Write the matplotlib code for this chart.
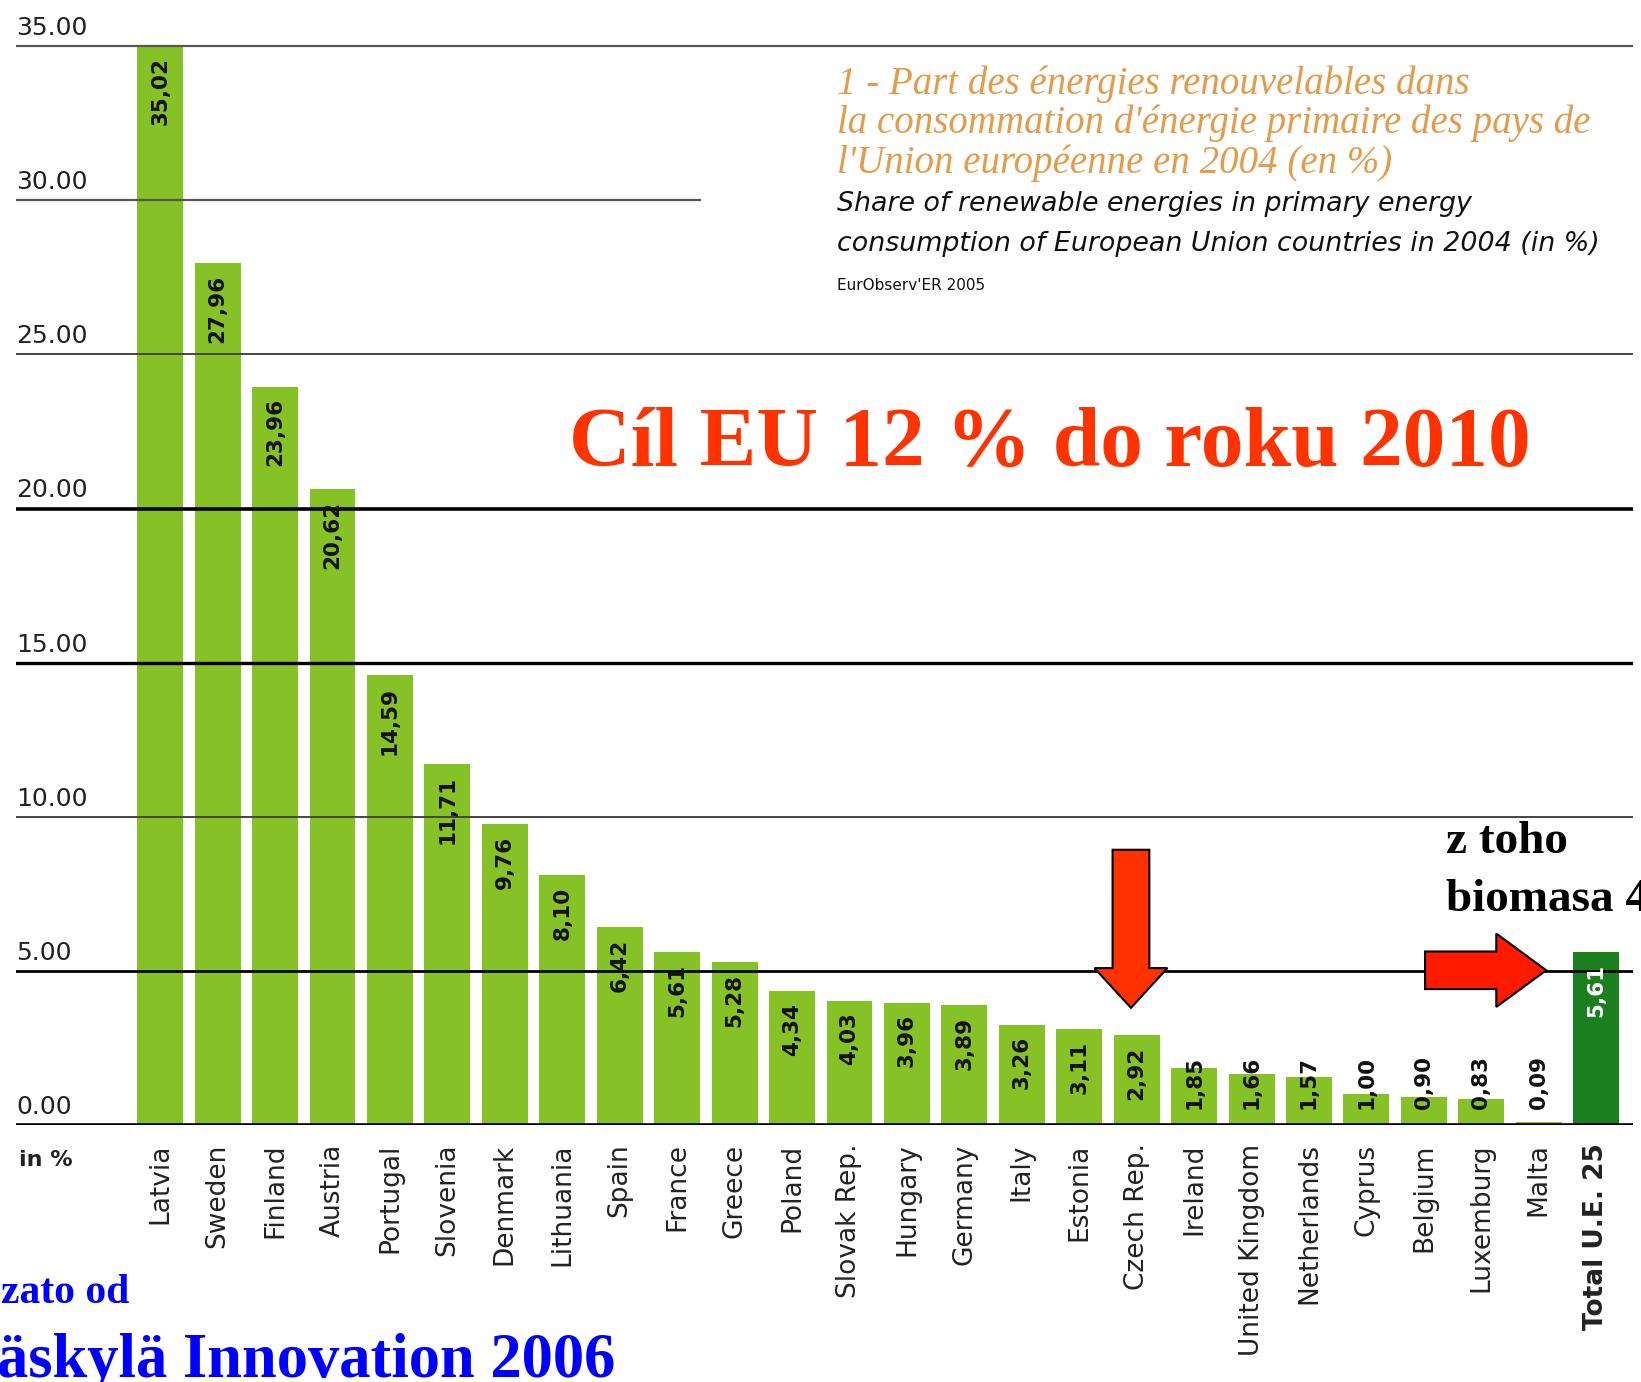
import matplotlib.pyplot as plt
import matplotlib.patches as mpatches
import matplotlib.transforms as mtransforms

countries = ['Latvia', 'Sweden', 'Finland', 'Austria', 'Portugal', 'Slovenia',
             'Denmark', 'Lithuania', 'Spain', 'France', 'Greece', 'Poland',
             'Slovak Rep.', 'Hungary', 'Germany', 'Italy', 'Estonia', 'Czech Rep.',
             'Ireland', 'United Kingdom', 'Netherlands', 'Cyprus', 'Belgium',
             'Luxemburg', 'Malta', 'Total U.E. 25']
values = [35.02, 27.96, 23.96, 20.62, 14.59, 11.71, 9.76, 8.10, 6.42, 5.61,
          5.28, 4.34, 4.03, 3.96, 3.89, 3.26, 3.11, 2.92, 1.85, 1.66, 1.57,
          1.00, 0.90, 0.83, 0.09, 5.61]
y_ticks = [0, 5, 10, 15, 20, 25, 30, 35]
y_tick_labels = ['0.00', '5.00', '10.00', '15.00', '20.00', '25.00', '30.00', '35.00']

W, H = 1641, 1382
fig = plt.figure(figsize=(W / 100, H / 100), dpi=100)
fig.patch.set_facecolor('white')

ax = fig.add_axes([16 / W, 257 / H, (1633 - 16) / W, 1125 / H])
ax.set_xlim(-2.51, 25.64)
ax.set_ylim(0, 36.5)
ax.axis('off')

light = '#86c226'
dark = '#1b7f1f'
colors = [light] * (len(values) - 1) + [dark]
x = list(range(len(values)))
ax.bar(x, values, width=0.8, color=colors, zorder=2)

# grid lines (some heavier, as in the scan)
line_style = {0: ('black', 2.6), 5: ('black', 2.0), 10: ('#444444', 1.4),
              15: ('black', 2.4), 20: ('black', 2.6), 25: ('#444444', 1.4),
              35: ('#555555', 1.6)}
for v in y_ticks:
    if v == 30:
        # the 30 line stops short in the original
        ax.plot([-2.51, 9.4], [30, 30], color='#555555', lw=1.6, zorder=3)
        continue
    c, lw = line_style[v]
    ax.axhline(v, color=c, lw=lw, zorder=3)

trans = mtransforms.blended_transform_factory(ax.transAxes, ax.transData)
for v, lab in zip(y_ticks, y_tick_labels):
    ax.text(0.0, v + 0.2, lab, transform=trans, ha='left', va='bottom',
            fontsize=18, color='#222222')

# value labels inside bars
for i, v in enumerate(values):
    lab = f'{v:.2f}'.replace('.', ',')
    top = max(v - 0.37, 2.25)
    col = 'white' if i == len(values) - 1 else '#111111'
    ax.text(i, top, lab, rotation=90, ha='center', va='top', fontsize=15.5,
            fontweight='bold', color=col, zorder=4)

# country names
for i, name in enumerate(countries):
    bold = 'bold' if i == len(countries) - 1 else 'normal'
    ax.text(i, -0.6, name, rotation=90, ha='center', va='top', fontsize=19,
            fontweight=bold, color='#222222')

fig.text(19 / W, 1 - 1160 / H, 'in %', fontsize=16, fontweight='bold',
         ha='left', va='center', color='#222222')

# arrows
ax.add_patch(mpatches.FancyArrow(16.9, 8.93, 0, -5.13, width=0.64, head_width=1.27,
                                 head_length=1.29, length_includes_head=True,
                                 facecolor='#ff3300', edgecolor='black', lw=1.5, zorder=5))
ax.add_patch(mpatches.FancyArrow(22.02, 5.02, 2.11, 0, width=1.22, head_width=2.38,
                                 head_length=0.87, length_includes_head=True,
                                 facecolor='#ff1a00', edgecolor='black', lw=1.5, zorder=5))

# title block
fr_lines = ["1 - Part des énergies renouvelables dans",
            "la consommation d'énergie primaire des pays de",
            "l'Union européenne en 2004 (en %)"]
for yy, t in zip([84, 123, 163], fr_lines):
    fig.text(837 / W, 1 - yy / H, t, fontsize=28, style='italic', family='Liberation Serif',
             color='#e39b4c', ha='left', va='center')
en_lines = ["Share of renewable energies in primary energy",
            "consumption of European Union countries in 2004 (in %)"]
for yy, t in zip([204, 244], en_lines):
    fig.text(837 / W, 1 - yy / H, t, fontsize=19.4, style='italic',
             color='#111111', ha='left', va='center')
fig.text(837 / W, 1 - 286 / H, "EurObserv'ER 2005", fontsize=11, color='#111111',
         ha='left', va='center')

fig.text(1050 / W, 1 - 445 / H, 'Cíl EU 12 % do roku 2010', fontsize=61.5,
         family='Liberation Serif', fontweight='bold', color='#ff3300',
         ha='center', va='center')

fig.text(1446 / W, 1 - 842 / H, 'z toho', fontsize=34, family='Liberation Serif',
         fontweight='bold', color='black', ha='left', va='center')
fig.text(1446 / W, 1 - 900 / H, 'biomasa 4', fontsize=34, family='Liberation Serif',
         fontweight='bold', color='black', ha='left', va='center')

fig.text(129 / W, 1 - 1293 / H, 'zato od', fontsize=30, family='Liberation Serif',
         fontweight='bold', color='#0000ff', ha='right', va='center')
fig.text(615 / W, 1 - 1362 / H, 'äskylä Innovation 2006', fontsize=45,
         family='Liberation Serif', fontweight='bold', color='#0000ff',
         ha='right', va='center')

fig.savefig('out.png', dpi=100)
